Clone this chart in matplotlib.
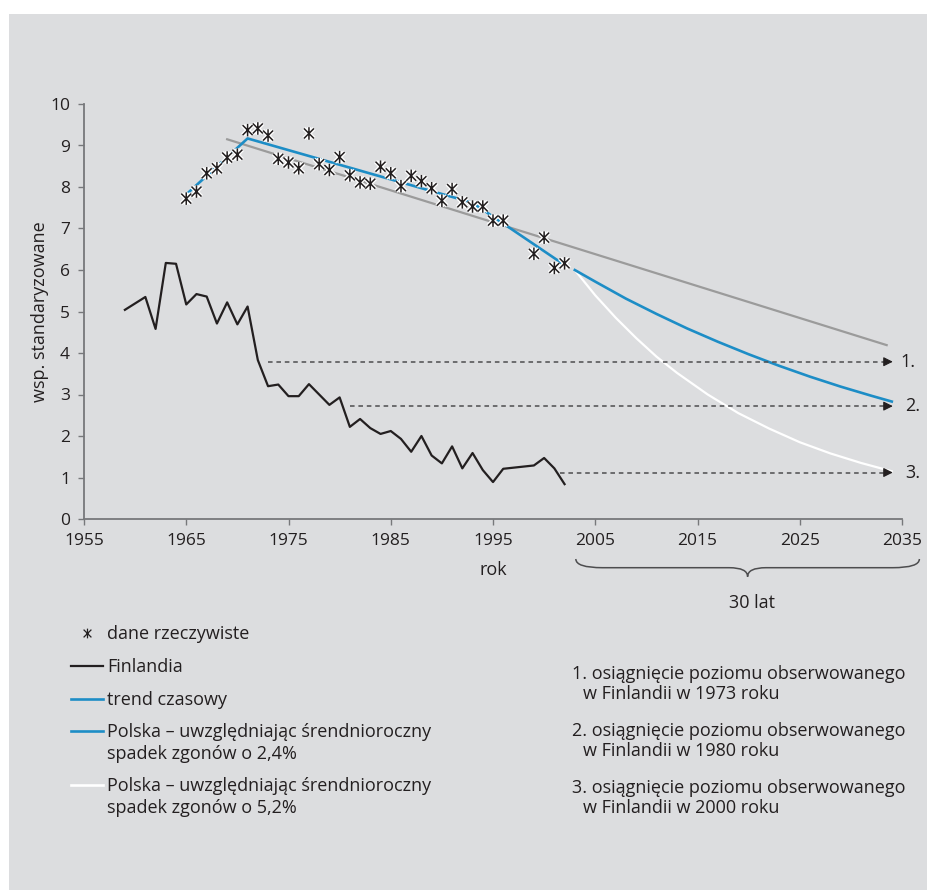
from __future__ import annotations

import matplotlib

matplotlib.use("Agg")
import matplotlib.patheffects as pe
import matplotlib.pyplot as plt
import matplotlib.transforms as mtransforms
from matplotlib.lines import Line2D
from matplotlib.patches import PathPatch, Rectangle
from matplotlib.path import Path

plt.rcParams["font.family"] = ["Open Sans", "DejaVu Sans"]

# Polska - dane rzeczywiste (wsp. standaryzowane)
POLAND_YEARS = [1965, 1966, 1967, 1968, 1969, 1970, 1971, 1972, 1973, 1974,
                1975, 1976, 1977, 1978, 1979, 1980, 1981, 1982, 1983, 1984,
                1985, 1986, 1987, 1988, 1989, 1990, 1991, 1992, 1993, 1994,
                1995, 1996, 1999, 2000, 2001, 2002]
POLAND_VALUES = [7.72, 7.89, 8.33, 8.45, 8.71, 8.78, 9.37, 9.41, 9.24, 8.68,
                 8.59, 8.45, 9.29, 8.55, 8.41, 8.72, 8.28, 8.11, 8.08, 8.49,
                 8.33, 8.02, 8.27, 8.14, 7.97, 7.67, 7.95, 7.63, 7.53, 7.53,
                 7.19, 7.19, 6.39, 6.78, 6.05, 6.16]

# Finlandia
FINLAND_YEARS = [1959, 1961, 1962, 1963, 1964, 1965, 1966, 1967, 1968, 1969,
                 1970, 1971, 1972, 1973, 1974, 1975, 1976, 1977, 1978, 1979,
                 1980, 1981, 1982, 1983, 1984, 1985, 1986, 1987, 1988, 1989,
                 1990, 1991, 1992, 1993, 1994, 1995, 1996, 1999, 2000, 2001,
                 2002]
FINLAND_VALUES = [5.04, 5.35, 4.58, 6.17, 6.15, 5.17, 5.42, 5.36, 4.71, 5.22,
                  4.69, 5.12, 3.83, 3.20, 3.24, 2.96, 2.96, 3.25, 3.00, 2.75,
                  2.93, 2.22, 2.41, 2.19, 2.05, 2.12, 1.93, 1.62, 2.00, 1.53,
                  1.34, 1.75, 1.22, 1.59, 1.18, 0.89, 1.21, 1.29, 1.47, 1.22,
                  0.84]

# trend czasowy (joinpoint) i trend liniowy
TREND_YEARS = [1965, 1971, 1993, 2002]
TREND_VALUES = [7.82, 9.17, 7.62, 6.12]
LINEAR_YEARS = [1969, 2033.5]
LINEAR_VALUES = [9.15, 4.19]

# prognozy
FORECAST_YEARS = [2003, 2005, 2008, 2011, 2014, 2017, 2020, 2023, 2026, 2029,
                  2032, 2034]
FORECAST_24 = [6.00, 5.72, 5.31, 4.94, 4.59, 4.27, 3.97, 3.69, 3.43, 3.19,
               2.97, 2.83]
FORECAST_52_YEARS = [2003, 2005, 2007, 2009, 2011, 2013, 2016, 2019, 2022,
                     2025, 2028, 2031, 2034]
FORECAST_52 = [6.00, 5.39, 4.85, 4.36, 3.91, 3.52, 3.00, 2.55, 2.18, 1.85,
               1.58, 1.35, 1.15]

# poziomy docelowe (Finlandia)
TARGET_LEVELS = [3.79, 2.72, 1.12]
TARGET_FROM = [1973, 1981, 2001.6]
TARGET_TO = 2034.1
TARGET_MARKS = ["1.", "2.", "3."]

X_TICKS = [1955, 1965, 1975, 1985, 1995, 2005, 2015, 2025, 2035]
Y_TICKS = list(range(0, 11))

LEGEND_LABELS = [
    "dane rzeczywiste",
    "Finlandia",
    "trend czasowy",
    "Polska – uwzględniając śrendnioroczny\nspadek zgonów o 2,4%",
    "Polska – uwzględniając śrendnioroczny\nspadek zgonów o 5,2%",
]
NOTES = [
    "1. osiągnięcie poziomu obserwowanego\nw Finlandii w 1973 roku",
    "2. osiągnięcie poziomu obserwowanego\nw Finlandii w 1980 roku",
    "3. osiągnięcie poziomu obserwowanego\nw Finlandii w 2000 roku",
]

TEXT = "#231F20"
AXIS = "#77787B"
BLUE = "#1D8DC6"
GRAY = "#9B9B9B"
DASH = "#4D4D4F"
BG = "#DCDDDF"
FS = 13

W, H = 928, 890

# gwiazdka: pionowa kreska i dwie przekątne
STAR = Path([(0, -1), (0, 1), (-0.8, -0.8), (0.8, 0.8), (-0.8, 0.8), (0.8, -0.8)],
            [Path.MOVETO, Path.LINETO] * 3)


def fx(px):
    return px / W


def fy(py):
    return 1 - py / H


def main() -> None:
    fig = plt.figure(figsize=(W / 100, H / 100), dpi=100, facecolor="white")
    fig.add_artist(Rectangle((fx(9), 0), 1 - fx(9), fy(14), transform=fig.transFigure,
                             facecolor=BG, edgecolor="none", zorder=-10))

    ax = fig.add_axes([fx(84), fy(519), fx(902) - fx(84), fy(104) - fy(519)])
    ax.set_facecolor("none")

    ax.plot(LINEAR_YEARS, LINEAR_VALUES, color=GRAY, lw=1.6, zorder=2)
    ax.plot(TREND_YEARS, TREND_VALUES, color=BLUE, lw=1.9, zorder=3)
    ax.plot(FORECAST_52_YEARS, FORECAST_52, color="white", lw=1.6, zorder=3)
    ax.plot(FORECAST_YEARS, FORECAST_24, color=BLUE, lw=1.9, zorder=3)
    ax.plot(FINLAND_YEARS, FINLAND_VALUES, color=TEXT, lw=1.6, zorder=3)

    for lvl, start, mark in zip(TARGET_LEVELS, TARGET_FROM, TARGET_MARKS):
        ax.plot([start, TARGET_TO - 0.6], [lvl, lvl], color=DASH, lw=1.1,
                ls=(0, (3, 2.5)), zorder=4)
        ax.annotate("", xy=(TARGET_TO, lvl), xytext=(TARGET_TO - 0.8, lvl),
                    arrowprops=dict(arrowstyle="-|>", mutation_scale=14, color=TEXT,
                                    lw=0.8, shrinkA=0, shrinkB=0), zorder=5)
        ax.text(TARGET_TO + (0.7 if mark == "1." else 1.2), lvl, mark, ha="left",
                va="center", fontsize=FS, color=TEXT, clip_on=False)

    ax.plot(POLAND_YEARS, POLAND_VALUES, ls="none", marker=STAR, ms=9, mew=1.1,
            color=TEXT, zorder=6,
            path_effects=[pe.Stroke(linewidth=3.0, foreground="white"), pe.Normal()])

    ax.set_xlim(1955, 2035)
    ax.set_ylim(0, 10)
    ax.set_xticks(X_TICKS)
    ax.set_yticks(Y_TICKS)
    for side in ("top", "right"):
        ax.spines[side].set_visible(False)
    for side in ("left", "bottom"):
        ax.spines[side].set_color(AXIS)
        ax.spines[side].set_linewidth(1.3)
    ax.tick_params(direction="out", length=4, width=1, color=AXIS, labelsize=12.5,
                   labelcolor=TEXT, pad=6)
    ax.set_xlabel("rok", fontsize=FS, color=TEXT, labelpad=9)
    ax.set_ylabel("wsp. standaryzowane", fontsize=FS, color=TEXT, labelpad=1)

    # klamra pod okresem prognozy
    blend = mtransforms.blended_transform_factory(ax.transData, fig.transFigure)
    x0, xm, x1 = 2003.1, 2019.9, 2036.7
    yt, ym, yb = fy(559), fy(567.7), fy(576.7)
    d_end, d_mid = 2.6, 1.8
    verts = [(x0, yt), (x0, ym), (x0 + d_end, ym), (xm - d_mid, ym), (xm, ym), (xm, yb),
             (xm, ym), (xm + d_mid, ym), (x1 - d_end, ym), (x1, ym), (x1, yt)]
    codes = [Path.MOVETO, Path.CURVE3, Path.CURVE3, Path.LINETO, Path.CURVE3, Path.CURVE3,
             Path.CURVE3, Path.CURVE3, Path.LINETO, Path.CURVE3, Path.CURVE3]
    ax.add_patch(PathPatch(Path(verts, codes), transform=blend, fill=False,
                           edgecolor="#4D4D4F", lw=1.1, clip_on=False))
    ax.text(2020.3, fy(603), "30 lat", transform=blend, ha="center", va="center",
            fontsize=FS, color=TEXT)

    # legenda
    handles = [
        dict(marker=STAR, ms=7, mew=0.9, ls="none", color=TEXT),
        dict(color=TEXT, lw=1.6),
        dict(color=BLUE, lw=1.9),
        dict(color=BLUE, lw=1.9),
        dict(color="white", lw=1.9),
    ]
    entry_y = [633, 666, 699, 731, 785]
    for label, style, y in zip(LEGEND_LABELS, handles, entry_y):
        if "marker" in style:
            fig.add_artist(Line2D([fx(87)], [fy(y)], transform=fig.transFigure, **style))
        else:
            fig.add_artist(Line2D([fx(71), fx(103)], [fy(y)] * 2,
                                  transform=fig.transFigure, **style))
        for i, line in enumerate(label.split("\n")):
            fig.text(fx(107), fy(y + 1 + 22 * i), line, ha="left", va="center",
                     fontsize=FS, color=TEXT)

    for note, y in zip(NOTES, [674, 731, 788]):
        first, second = note.split("\n")
        fig.text(fx(572), fy(y), first, ha="left", va="center", fontsize=FS, color=TEXT)
        fig.text(fx(583), fy(y + 20), second, ha="left", va="center", fontsize=FS,
                 color=TEXT)

    fig.savefig("out.png", dpi=100)
    plt.close(fig)


if __name__ == "__main__":
    main()
